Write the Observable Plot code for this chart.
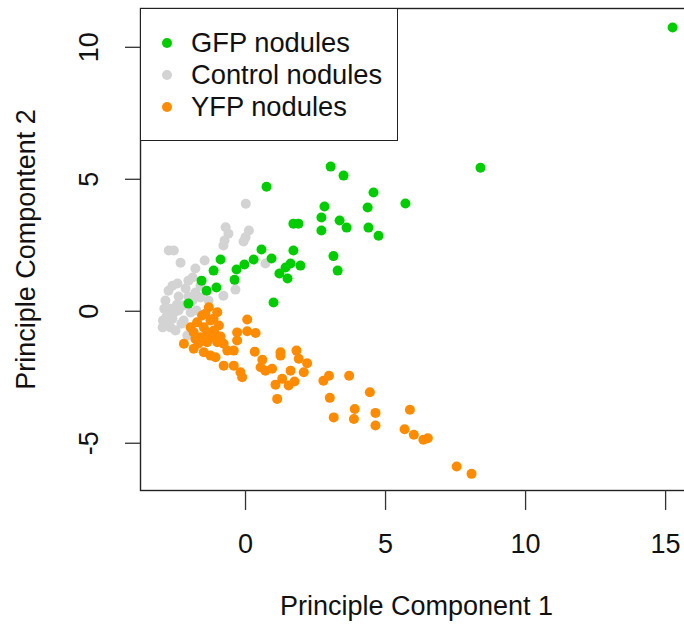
<!DOCTYPE html>
<html><head><meta charset="utf-8">
<script src="https://cdn.jsdelivr.net/npm/d3@7"></script>
<script src="https://cdn.jsdelivr.net/npm/@observablehq/plot@0.6"></script>
<style>
body{margin:0;background:#fff;}
#wrap{position:relative;width:684px;height:626px;overflow:hidden;font-family:"Liberation Sans",Arial,sans-serif;}
#legend{position:absolute;left:140px;top:8px;width:258px;height:133px;box-sizing:border-box;border:1.5px solid #222;background:#fff;}
.item{position:absolute;left:0;height:32px;display:flex;align-items:center;font-size:27.3px;color:#111;white-space:nowrap;}
.dot{width:10px;height:10px;border-radius:50%;margin-left:21px;margin-right:19px;}
</style>
</head><body>
<div id="wrap"></div>
<script>
// ---- data ----
const seriesNames = ["GFP nodules", "Control nodules", "YFP nodules"];
const seriesColors = ["#00CD00", "#D3D3D3", "#FF8C00"];
const xTicks = [0, 5, 10, 15];
const yTicks = [-5, 0, 5, 10];
const xTitle = "Principle Component 1";
const yTitle = "Principle Compontent 2";

const gfpX = [15.25,8.39,3.04,3.5,0.75,4.57,5.71,2.82,4.36,2.71,3.36,3.61,1.71,1.89,4.39,4.75,2.71,0.57,1.71,3.14,0.29,0.93,-0.04,-0.32,1.61,1.43,1.96,1.21,1.5,3.29,1.0,-0.89,-1.14,-1.57,-1.04,-1.39,-2.04,-0.39];
const gfpY = [10.75,5.44,5.48,5.14,4.72,4.50,4.08,3.97,3.93,3.55,3.44,3.17,3.32,3.32,3.17,2.86,3.06,2.34,2.30,2.09,1.96,2.00,1.77,1.58,1.81,1.66,1.73,1.43,1.24,1.54,0.33,1.96,1.54,1.16,0.90,0.78,0.29,1.19];

const controlX = [0.01,-0.71,-0.61,-0.75,-0.79,0.12,0.0,-0.07,-2.74,-2.56,-2.32,-1.46,-1.79,-2.04,-1.89,-2.43,-2.75,-0.36,-0.79,0.71,-2.96,-2.68,-2.08,-2.86,-2.68,-2.82,-2.61,-2.39,-2.21,-2.04,-1.79,-1.61,-2.39,-2.21,-1.96,-1.89,-2.5,-2.29,-2.89,-1.75,-1.32,-2.14,-2.61,-1.61,-2.95,-2.75,-2.55,-2.45,-2.9];
const controlY = [4.07,3.18,2.94,2.68,2.49,3.06,2.80,2.64,2.30,2.30,1.84,1.92,1.62,1.16,1.28,1.05,0.78,0.82,0.59,1.81,-0.61,-0.61,-0.92,0.41,0.10,-0.20,-0.28,0.56,0.22,0.56,0.71,0.97,0.03,-0.35,-0.05,0.41,-0.73,-0.47,-0.43,0.03,0.41,0.86,0.97,0.52,-0.35,-0.45,-0.05,0.25,0.1];

const yfpX = [0.06,-2.20,-1.85,-0.30,0.06,0.36,-0.30,-1.01,-0.78,-0.65,-0.42,-1.49,-1.25,-1.07,-0.78,-0.42,-0.18,-0.12,0.33,0.60,0.54,0.71,0.95,1.25,1.25,1.82,1.90,2.20,2.08,1.61,1.75,1.54,1.31,1.07,1.13,2.78,2.98,3.70,4.44,3.01,3.90,3.87,3.15,4.64,4.64,5.87,5.68,6.01,6.35,6.51,7.54,8.07,-1.31,-1.01,-1.55,-1.73,-1.25,-1.96,-1.49,-0.95,-1.85,-1.37,-1.13,-1.61,-1.25,-1.79,-1.37,-1.14,-1.43,-1.07,-1.68,-0.89];
const yfpY = [-0.31,-1.23,-1.42,-0.80,-0.76,-0.82,-1.11,-1.17,-1.23,-1.49,-1.49,-1.55,-1.68,-1.74,-2.06,-2.06,-2.31,-2.50,-1.53,-1.84,-2.12,-2.25,-2.18,-1.55,-1.68,-1.49,-1.80,-1.97,-2.31,-2.25,-2.66,-2.81,-2.56,-2.78,-3.32,-2.63,-2.44,-2.44,-3.07,-3.28,-3.70,-4.08,-4.02,-3.85,-4.33,-3.73,-4.47,-4.68,-4.87,-4.81,-5.88,-6.16,0.15,-0.04,-0.16,-0.42,-0.35,-0.61,-0.61,-0.54,-0.80,-0.80,-0.73,-0.98,-0.98,-1.05,-1.17,-0.28,-0.09,-0.88,-1.22,-0.96];

// ---- build tables ----
const toRows = (xs, ys) => xs.map((x, i) => ({x, y: ys[i]}));
const gfp = toRows(gfpX, gfpY);
const control = toRows(controlX, controlY);
const yfp = toRows(yfpX, yfpY);

const font = "'Liberation Sans', Arial, sans-serif";
const fmt = d => String(d);
const chart = Plot.plot({
  width: 684,
  height: 626,
  marginLeft: 140,
  marginRight: -8,
  marginTop: 8,
  marginBottom: 136,
  style: {fontFamily: font, fontSize: "27px", color: "#111", background: "white"},
  x: {domain: [-3.75, 15.96], label: null},
  y: {domain: [-6.79, 11.47], label: null},
  marks: [
    Plot.dot(control, {x: "x", y: "y", r: 5, fill: seriesColors[1]}),
    Plot.dot(gfp, {x: "x", y: "y", r: 5, fill: seriesColors[0]}),
    Plot.dot(yfp, {x: "x", y: "y", r: 5, fill: seriesColors[2]}),
    Plot.frame({stroke: "#222", strokeWidth: 1.4}),
    Plot.axisX(xTicks, {tickSize: 20, tickPadding: 23, fontSize: 27, stroke: "#333", strokeWidth: 1.3, tickFormat: fmt, label: null}),
    Plot.axisY(yTicks, {tickSize: 15, tickPadding: 28, tickRotate: -90, fontSize: 27, stroke: "#333", strokeWidth: 1.3, tickFormat: fmt, label: null}),
    Plot.text([xTitle], {text: d => d, frameAnchor: "bottom", dy: 116, fontSize: 27, textAnchor: "middle", lineAnchor: "middle", fill: "#111"}),
    Plot.text([yTitle], {text: d => d, frameAnchor: "left", dx: -114, rotate: -90, fontSize: 27, textAnchor: "middle", lineAnchor: "middle", fill: "#111"})
  ]
});

const wrap = document.getElementById("wrap");
wrap.appendChild(chart);

// legend inside plot area (top-left)
const legend = document.createElement("div");
legend.id = "legend";
seriesNames.forEach((name, i) => {
  const item = document.createElement("div");
  item.className = "item";
  item.style.top = (18 + i * 32) + "px";
  const dot = document.createElement("span");
  dot.className = "dot";
  dot.style.background = seriesColors[i];
  const label = document.createElement("span");
  label.textContent = name;
  item.appendChild(dot);
  item.appendChild(label);
  legend.appendChild(item);
});
wrap.appendChild(legend);
</script>
</body></html>
